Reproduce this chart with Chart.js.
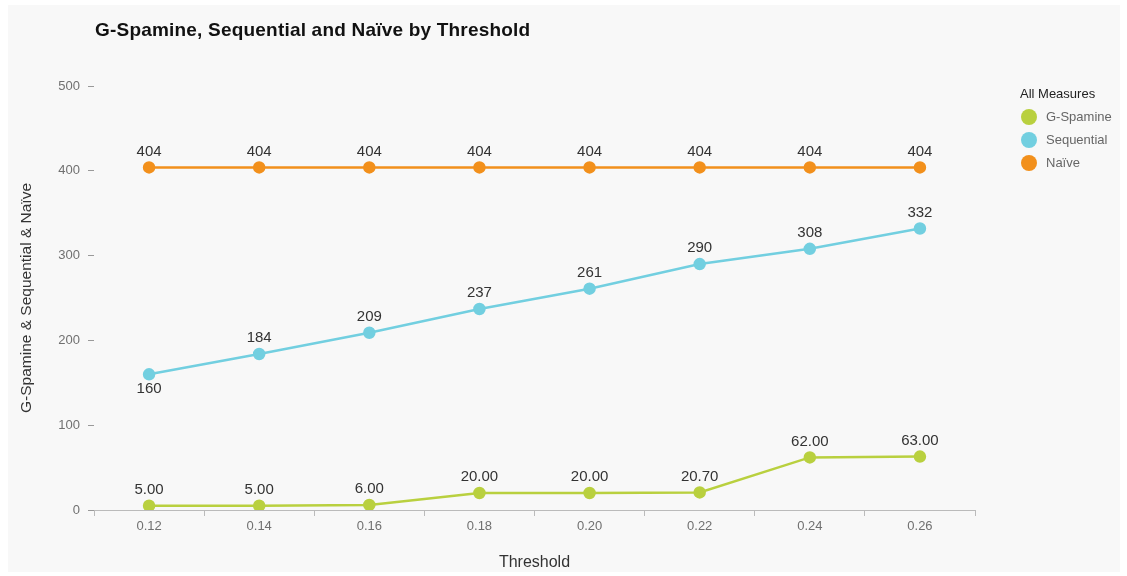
<!DOCTYPE html>
<html>
<head>
<meta charset="utf-8">
<script src="https://cdn.jsdelivr.net/npm/chart.js@4/dist/chart.umd.min.js"></script>
<style>
  html, body { margin: 0; padding: 0; background: #ffffff; }
  #wrap { width: 1127px; height: 576px; position: relative; }
</style>
</head>
<body>
<div id="wrap"><canvas id="thresholdChart" width="1127" height="576"></canvas></div>
<script>
// --- Data ---
const thresholds = ['0.12', '0.14', '0.16', '0.18', '0.20', '0.22', '0.24', '0.26'];
const gSpamine = [5, 5, 6, 20, 20, 20.7, 62, 63];
const sequential = [160, 184, 209, 237, 261, 290, 308, 332];
const naive = [404, 404, 404, 404, 404, 404, 404, 404];
const yTicks = [0, 100, 200, 300, 400, 500];

const seriesNames = ['G-Spamine', 'Sequential', 'Naïve'];
const seriesColors = ['#b9d03f', '#72cfe0', '#f2901c'];
const labelDecimals = [2, 0, 0];

const FONT = 'Arial, "Liberation Sans", sans-serif';

// --- Background panel, title, legend and value labels ---
const decorPlugin = {
    id: 'decor',
    beforeDraw(chart) {
        const ctx = chart.ctx;
        ctx.save();
        ctx.fillStyle = '#ffffff';
        ctx.fillRect(0, 0, chart.width, chart.height);
        ctx.fillStyle = '#f8f8f8';
        ctx.fillRect(8, 5, 1112, 567);
        ctx.restore();
    },
    afterDatasetsDraw(chart) {
        const ctx = chart.ctx;
        ctx.save();

        // title
        ctx.fillStyle = '#111111';
        ctx.font = 'bold 19px ' + FONT;
        ctx.letterSpacing = '0.2px';
        ctx.textAlign = 'left';
        ctx.textBaseline = 'middle';
        ctx.fillText('G-Spamine, Sequential and Naïve by Threshold', 95, 31);
        ctx.letterSpacing = '0px';

        // value labels
        ctx.font = '15px ' + FONT;
        ctx.fillStyle = '#333333';
        ctx.textAlign = 'center';
        chart.data.datasets.forEach((ds, di) => {
            const meta = chart.getDatasetMeta(di);
            meta.data.forEach((pt, i) => {
                const txt = ds.data[i].toFixed(labelDecimals[di]);
                // the first Sequential label sits under its point
                const below = (di === 1 && i === 0);
                ctx.fillText(txt, pt.x, below ? pt.y + 15 : pt.y - 16);
            });
        });

        // legend
        ctx.textAlign = 'left';
        ctx.fillStyle = '#222222';
        ctx.font = '13px ' + FONT;
        ctx.fillText('All Measures', 1020, 94);
        seriesNames.forEach((name, i) => {
            const y = 117 + i * 23;
            ctx.beginPath();
            ctx.arc(1029, y, 8, 0, Math.PI * 2);
            ctx.fillStyle = seriesColors[i];
            ctx.fill();
            ctx.fillStyle = '#666666';
            ctx.fillText(name, 1046, y);
        });
        ctx.restore();
    }
};

const makeSet = (idx, values) => ({
    label: seriesNames[idx],
    data: values,
    borderColor: seriesColors[idx],
    backgroundColor: seriesColors[idx],
    pointBackgroundColor: seriesColors[idx],
    pointBorderColor: seriesColors[idx],
    borderWidth: 2.5,
    pointRadius: 5,
    pointHoverRadius: 5,
    tension: 0,
    fill: false
});

new Chart(document.getElementById('thresholdChart'), {
    type: 'line',
    data: {
        labels: thresholds,
        datasets: [makeSet(0, gSpamine), makeSet(1, sequential), makeSet(2, naive)]
    },
    options: {
        responsive: false,
        animation: false,
        layout: { padding: { left: 0, top: 86, right: 152, bottom: 0 } },
        plugins: {
            legend: { display: false },
            title: { display: false },
            tooltip: { enabled: false }
        },
        scales: {
            x: {
                offset: true,
                grid: {
                    offset: true,
                    drawOnChartArea: false,
                    drawTicks: true,
                    tickLength: 6,
                    color: '#bbbbbb'
                },
                border: { display: true, color: '#bbbbbb', width: 1 },
                ticks: {
                    color: '#707070',
                    font: { family: FONT, size: 13 },
                    padding: 3
                },
                title: {
                    display: true,
                    text: 'Threshold',
                    color: '#333333',
                    font: { family: FONT, size: 16 },
                    padding: { top: 12 }
                },
                afterFit(scale) { scale.height = 66; }
            },
            y: {
                min: 0,
                max: 500,
                afterBuildTicks(scale) {
                    scale.ticks = yTicks.map(v => ({ value: v }));
                },
                grid: {
                    drawOnChartArea: false,
                    drawTicks: true,
                    tickLength: 6,
                    color: '#999999'
                },
                border: { display: false },
                ticks: {
                    color: '#707070',
                    font: { family: FONT, size: 13 },
                    padding: 8
                },
                title: {
                    display: true,
                    text: 'G-Spamine & Sequential & Naïve',
                    color: '#333333',
                    font: { family: FONT, size: 15.5 },
                    padding: { top: 17, bottom: 0 }
                },
                afterFit(scale) { scale.width = 94; }
            }
        }
    },
    plugins: [decorPlugin]
});
</script>
</body>
</html>
